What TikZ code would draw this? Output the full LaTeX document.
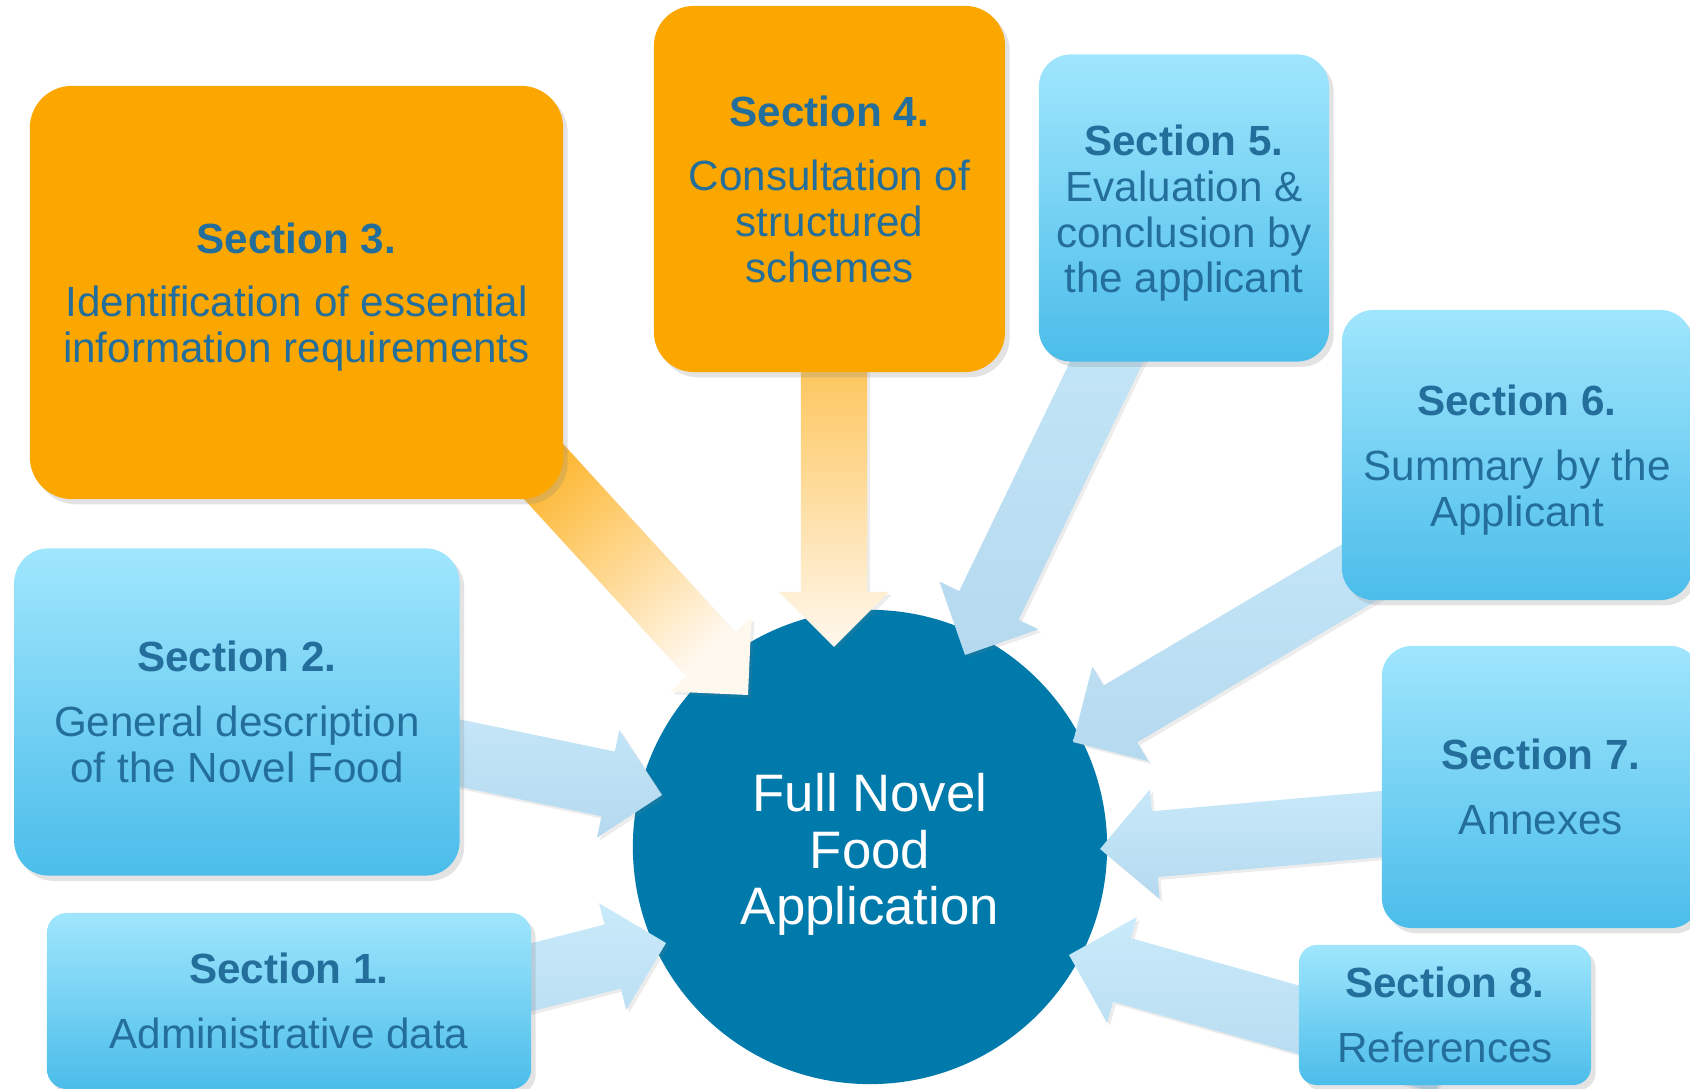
\documentclass[tikz,border=0pt]{standalone}
\usepackage{fontspec}
\setmainfont{Liberation Sans}
\usetikzlibrary{calc,shadows}

\definecolor{secOrange}{HTML}{FCA600}
\definecolor{secTop}{HTML}{A0E6FD}
\definecolor{secBot}{HTML}{4BBDEA}
\definecolor{secText}{HTML}{236E9B}
\definecolor{coreBlue}{HTML}{0079AB}
\definecolor{arrTop}{HTML}{C9EAFA}
\definecolor{arrBot}{HTML}{B5D9EF}
\definecolor{arrPale}{HTML}{FFF8EE}

\pgfdeclarelayer{bg}
\pgfdeclarelayer{arrows}
\pgfsetlayers{bg,arrows,main}

\newcommand{\sechead}[1]{\textbf{Section #1.}}
% широкая стрелка: начало, острие, стиль заливки
\newcommand{\blockarrow}[3]{%
  \coordinate (as) at #1;
  \coordinate (at) at #2;
  \coordinate (ah) at ($(at)!0.55cm!(as)$);
  \path[#3] ($(as)!0.33cm!90:(at)$) -- ($(ah)!0.33cm!90:(at)$) -- ($(ah)!0.55cm!90:(at)$) -- (at)
    -- ($(ah)!0.55cm!-90:(at)$) -- ($(ah)!0.33cm!-90:(at)$) -- ($(as)!0.33cm!-90:(at)$) -- cycle;
}

\begin{document}
\begin{tikzpicture}[x=0.01cm, y=-0.01cm] % 1 unit = 1px, y goes down
\tikzstyle{secbox} = [rounded corners=0.3cm, inner sep=0pt, align=center, text=secText, font=\fontsize{12}{13}\selectfont, drop shadow={shadow xshift=1.3pt, shadow yshift=-1.5pt, opacity=0.22}] % общий стиль блока
\tikzstyle{bluebox} = [secbox, top color=secTop, bottom color=secBot] % ordinary section
\tikzstyle{keybox} = [secbox, fill=secOrange] % highlighted section
\tikzstyle{hub} = [circle, fill=coreBlue, minimum size=4.74cm, inner sep=0pt, align=center, text=white, font=\fontsize{15}{16}\selectfont] % центр
\tikzstyle{bluearrow} = [top color=arrTop, bottom color=arrBot, drop shadow={shadow xshift=0.8pt, shadow yshift=-0.8pt, opacity=0.15}]
\tikzstyle{keyarrow} = [bottom color=secOrange, top color=arrPale, drop shadow={shadow xshift=0.8pt, shadow yshift=-0.8pt, opacity=0.15}]

\useasboundingbox (0,0) rectangle (1690,1089);

\begin{pgfonlayer}{bg}
\node[hub] (hub) at (870,847) {\rule{0pt}{15.1pt}Full Novel\\Food\\Application};
\end{pgfonlayer}

% sections around the centre
\node[bluebox, minimum width=4.84cm, minimum height=1.76cm, rounded corners=0.2cm] (s1) at (289,1001) {\sechead{1}\\[5.4pt]Administrative data};
\node[bluebox, minimum width=4.45cm, minimum height=3.27cm, rounded corners=0.34cm] (s2) at (237,712) {\sechead{2}\\[5.4pt]General description\\of the Novel Food};
\node[keybox, minimum width=5.33cm, minimum height=4.13cm, rounded corners=0.42cm] (s3) at (296.5,292.5) {\rule{0pt}{11.3pt}\sechead{3}\\[5pt]Identification of essential\\information requirements};
\node[keybox, minimum width=3.51cm, minimum height=3.66cm, rounded corners=0.4cm] (s4) at (829.5,189) {\sechead{4}\\[5.4pt]Consultation of\\structured\\schemes};
\node[bluebox, minimum width=2.90cm, minimum height=3.07cm, rounded corners=0.32cm] (s5) at (1184,208) {\rule{0pt}{11.7pt}\sechead{5}\\Evaluation \&\\conclusion by\\the applicant};
\node[bluebox, minimum width=3.50cm, minimum height=2.90cm, rounded corners=0.32cm] (s6) at (1517,455) {\rule{0pt}{11.7pt}\sechead{6}\\[5.4pt]Summary by the\\Applicant};
\node[bluebox, minimum width=3.18cm, minimum height=2.82cm, rounded corners=0.3cm] (s7) at (1541,787) {\sechead{7}\\[5.4pt]Annexes};
\node[bluebox, minimum width=2.92cm, minimum height=1.40cm, rounded corners=0.18cm] (s8) at (1445,1015) {\sechead{8}\\[5.4pt]References};

% стрелки к центру
\begin{pgfonlayer}{arrows}
\blockarrow{($(s1)+(0,38)$)}{($(hub)+(-204,96)$)}{bluearrow}
\blockarrow{($(s2)+(0,-5)$)}{($(hub)+(-208,-52)$)}{bluearrow}
\blockarrow{($(s3.south east)+(-85,-99)$)}{($(hub)+(-122,-152)$)}{keyarrow, shading angle=-137.6}
\blockarrow{($(s4)+(4.5,0)$)}{($(hub)+(-36,-200)$)}{keyarrow, shading angle=-180}
\blockarrow{($(s5)+(-3,0)$)}{($(hub)+(95,-192)$)}{bluearrow}
\blockarrow{($(s6)+(0,24)$)}{($(hub)+(203,-105)$)}{bluearrow}
\blockarrow{($(s7)+(0,23)$)}{($(hub)+(230,2)$)}{bluearrow}
\blockarrow{($(s8)+(0,46)$)}{($(hub)+(199,108)$)}{bluearrow}
\end{pgfonlayer}
\end{tikzpicture}
\end{document}
